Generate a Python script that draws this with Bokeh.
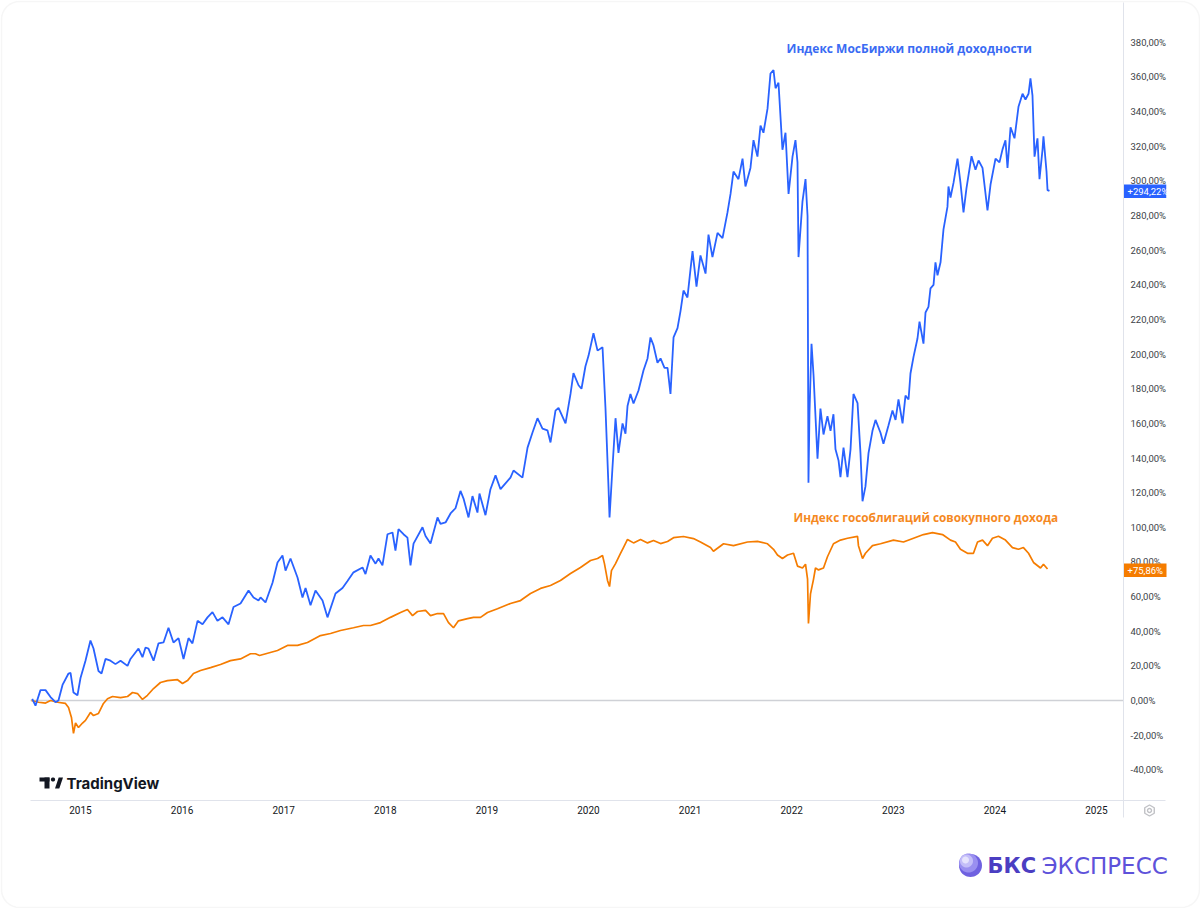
import math
from bokeh.plotting import figure
from bokeh.models import Range1d, FixedTicker, Label, BoxAnnotation, PolyAnnotation
from bokeh.embed import file_html
from bokeh.resources import INLINE

# ---------------- data (decimal years, % return) ----------------
moex_t = [
    2014.525, 2014.557, 2014.606, 2014.656, 2014.705, 2014.754, 2014.783, 2014.823, 2014.882, 2014.902, 2014.931, 2014.970,
    2015.000, 2015.049, 2015.098, 2015.128, 2015.177, 2015.207, 2015.246, 2015.295, 2015.344, 2015.394, 2015.463, 2015.492,
    2015.571, 2015.610, 2015.640, 2015.669, 2015.719, 2015.768, 2015.817, 2015.866, 2015.915, 2015.965,
    2016.014, 2016.063, 2016.102, 2016.152, 2016.201, 2016.250, 2016.299, 2016.348, 2016.398, 2016.457, 2016.506, 2016.575,
    2016.654, 2016.703, 2016.752, 2016.772, 2016.821, 2016.890, 2016.939, 2016.988,
    2017.018, 2017.067, 2017.136, 2017.185, 2017.215, 2017.264, 2017.313, 2017.382, 2017.431, 2017.510, 2017.579, 2017.628,
    2017.687, 2017.776, 2017.805, 2017.854, 2017.904, 2017.933, 2017.972,
    2018.022, 2018.071, 2018.100, 2018.130, 2018.179, 2018.218, 2018.248, 2018.278, 2018.366, 2018.396, 2018.445, 2018.514,
    2018.543, 2018.593, 2018.642, 2018.691, 2018.740, 2018.770, 2018.819, 2018.858, 2018.907, 2018.927, 2018.986,
    2019.035, 2019.085, 2019.134, 2019.232, 2019.262, 2019.350, 2019.400, 2019.449, 2019.498, 2019.547, 2019.596, 2019.626,
    2019.675, 2019.705, 2019.774, 2019.823, 2019.852, 2019.902, 2019.931, 2019.970,
    2020.000, 2020.049, 2020.089, 2020.138, 2020.148, 2020.167, 2020.197, 2020.207, 2020.236, 2020.266, 2020.295, 2020.335,
    2020.364, 2020.384, 2020.413, 2020.443, 2020.492, 2020.541, 2020.581, 2020.610, 2020.640, 2020.679, 2020.709, 2020.748,
    2020.778, 2020.807, 2020.837, 2020.876, 2020.906, 2020.935, 2020.974,
    2021.004, 2021.024, 2021.063, 2021.102, 2021.152, 2021.181, 2021.220, 2021.270, 2021.319, 2021.368, 2021.398, 2021.427,
    2021.476, 2021.516, 2021.545, 2021.594, 2021.624, 2021.663, 2021.693, 2021.722, 2021.762, 2021.791, 2021.821, 2021.841,
    2021.870, 2021.909, 2021.939, 2021.969,
    2022.008, 2022.037, 2022.057, 2022.067, 2022.106, 2022.136, 2022.156, 2022.165, 2022.175, 2022.195, 2022.215, 2022.254,
    2022.283, 2022.313, 2022.352, 2022.382, 2022.411, 2022.431, 2022.461, 2022.480, 2022.510, 2022.549, 2022.579, 2022.608,
    2022.648, 2022.677, 2022.697, 2022.726, 2022.756, 2022.795, 2022.825, 2022.874, 2022.903, 2022.953, 2022.992,
    2023.022, 2023.051, 2023.091, 2023.120, 2023.150, 2023.169, 2023.199, 2023.238, 2023.258, 2023.297, 2023.317, 2023.346,
    2023.366, 2023.396, 2023.415, 2023.435, 2023.465, 2023.494, 2023.533, 2023.543, 2023.563, 2023.593, 2023.632, 2023.661,
    2023.691, 2023.720, 2023.740, 2023.770, 2023.809, 2023.839, 2023.878, 2023.927, 2023.957,
    2024.006, 2024.045, 2024.075, 2024.104, 2024.124, 2024.154, 2024.193, 2024.232, 2024.272, 2024.301, 2024.331, 2024.350,
    2024.370, 2024.390, 2024.419, 2024.439, 2024.469, 2024.478, 2024.508, 2024.518, 2024.537,
]
moex_v = [
    1, -3, 6, 6, 2, -1, 0, 9, 15.6, 16, 4.6, 3,
    13, 23, 34.6, 30, 17, 15.6, 24, 23, 21, 23, 20, 24,
    30, 25, 30.6, 30, 23, 33, 33.5, 42, 33.5, 36,
    24, 36, 33, 46, 44, 48, 51, 46, 48, 44, 54, 56,
    63.5, 59.5, 57.7, 59.5, 56.6, 68, 79.7, 83.7,
    75, 82, 71, 59.5, 65, 55, 63.5, 57.7, 48, 61.8, 65, 69,
    74, 76.8, 73, 83.7, 79, 82, 78,
    96, 97, 86.6, 99, 96, 94, 78, 90.6, 100, 95, 90.6, 105.7,
    102, 102.8, 108, 111, 121, 116.6, 105.7, 118, 108.5, 119.5, 107,
    122, 130, 122, 128.7, 132.8, 128.7, 146, 154.7, 163, 157, 156, 149,
    167.4, 169, 160, 177, 189, 182, 180, 193,
    199, 212, 202, 204, 192, 169, 123, 105.7, 134.5, 163, 143, 160,
    154, 170, 177, 171.5, 179, 190.5, 197.5, 209.6, 205, 195, 197.5, 192,
    192, 177, 209.6, 215, 225, 236.7, 232.7,
    249, 259.4, 239, 257, 246.5, 269, 256, 270, 267, 281.8, 292.5, 305.4,
    301, 312.9, 296.8, 307.5, 323.5, 314, 332, 327.8, 341.7, 362, 364, 353.5,
    356.7, 318, 327.8, 292.5,
    314, 323.5, 310.7, 256, 288, 301, 279.7, 125.7, 166.3, 206, 187.8, 139.6,
    168.5, 153.6, 164.2, 155.7, 165.3, 145, 138.6, 129, 146, 129, 145, 177,
    171.7, 142.8, 115, 123.6, 142.8, 155.7, 162, 154.6, 148.2, 158.9, 167.4,
    162, 173.8, 160, 176, 173.8, 188.8, 198.4, 209, 218.8, 206, 224, 227.3,
    238, 240, 253, 245.5, 253, 272, 285, 296.8, 290.4, 299, 312.9, 299,
    281.8, 295.7, 303.2, 314.3, 306.4, 311.8, 307.5, 282.9, 297.9,
    312.9, 310.7, 318.2, 323.5, 307.5, 331, 324.6, 342.8, 350.3, 347, 350.3, 359.2,
    349.2, 314, 324.6, 301, 318.2, 325.7, 305.4, 294.7, 294.2,
]

bonds_t = [
    2014.518, 2014.587, 2014.656, 2014.705, 2014.774, 2014.852, 2014.882, 2014.911, 2014.931, 2014.951, 2014.980,
    2015.020, 2015.049, 2015.098, 2015.128, 2015.177, 2015.226, 2015.266, 2015.315, 2015.394, 2015.463, 2015.512,
    2015.561, 2015.610, 2015.659, 2015.719, 2015.787, 2015.856, 2015.955,
    2016.004, 2016.053, 2016.112, 2016.181, 2016.280, 2016.378, 2016.476, 2016.575, 2016.673, 2016.722, 2016.762, 2016.939,
    2017.037, 2017.136, 2017.234, 2017.362, 2017.461, 2017.559, 2017.687, 2017.785, 2017.854, 2017.953,
    2018.051, 2018.150, 2018.218, 2018.268, 2018.317, 2018.396, 2018.445, 2018.514, 2018.573, 2018.622, 2018.671,
    2018.720, 2018.809, 2018.868, 2018.937,
    2019.006, 2019.104, 2019.232, 2019.331, 2019.429, 2019.528, 2019.626, 2019.724, 2019.823, 2019.921,
    2020.020, 2020.089, 2020.138, 2020.157, 2020.187, 2020.207, 2020.226, 2020.266, 2020.315, 2020.344, 2020.384,
    2020.443, 2020.512, 2020.581, 2020.640, 2020.709, 2020.778, 2020.837, 2020.935,
    2021.033, 2021.102, 2021.201, 2021.230, 2021.329, 2021.427, 2021.565, 2021.663, 2021.762, 2021.821, 2021.860,
    2021.909, 2021.959,
    2022.018, 2022.057, 2022.106, 2022.136, 2022.156, 2022.165, 2022.185, 2022.215, 2022.234, 2022.264, 2022.313,
    2022.352, 2022.411, 2022.480, 2022.549, 2022.648, 2022.657, 2022.697, 2022.726, 2022.795, 2022.874,
    2023.002, 2023.100, 2023.199, 2023.297, 2023.386, 2023.484, 2023.563, 2023.612, 2023.661, 2023.730, 2023.789,
    2023.829, 2023.878, 2023.927, 2023.976,
    2024.035, 2024.104, 2024.173, 2024.232, 2024.281, 2024.331, 2024.380, 2024.449, 2024.478, 2024.518,
]
bonds_v = [
    0, -1, -1.5, 0, -1, -1.7, -4, -9.8, -19, -13, -15.6,
    -13, -11.5, -6.9, -8.7, -7.5, -1.7, 1, 2.3, 1.7, 2.3, 4.6,
    4, 0.6, 3, 6.9, 10.4, 11.5, 12,
    9.8, 11.5, 15.6, 17.3, 19, 20.8, 23, 24, 27, 27, 26, 28.9,
    31.8, 31.8, 33.5, 37.5, 38.7, 40.4, 42, 43.3, 43.3, 45,
    48, 50.8, 52.5, 49, 51.4, 52, 49, 50.2, 50.2, 45, 42,
    46, 47.3, 48, 48,
    50.8, 53, 56, 57.7, 61.8, 64.7, 66.4, 69.3, 73.3, 76.8,
    80.8, 82, 83.7, 79, 69.3, 65.8, 75, 79, 84.9, 88.3, 93,
    91, 93, 91, 92.4, 90.6, 91.8, 94, 94.7,
    93.5, 91.5, 88.3, 86.2, 90.5, 89.4, 91.5, 91.9, 90.5, 87.3, 84,
    82, 84,
    85, 77.6, 76.5, 78.7, 70.1, 44.5, 61.6, 70.1, 76.5, 75.4, 76.5,
    83, 90.5, 92.6, 93.7, 94.8, 89.4, 82, 85, 89.4, 90.5,
    92.6, 91.5, 93.7, 95.8, 96.9, 95.8, 92.6, 91.5, 87.3, 85, 85,
    91.5, 92.6, 89.4, 93.7,
    94.8, 92.6, 88.3, 87.3, 88.3, 85, 79.7, 76.5, 78.7, 75.9,
]

year_ticks = list(range(2015, 2026))
pct_ticks = list(range(-40, 381, 20))
pct_labels = {v: f"{v},00%" for v in pct_ticks}
moex_name = "Индекс МосБиржи полной доходности"
bonds_name = "Индекс гособлигаций совокупного дохода"
moex_last = "+294,22%"
bonds_last = "+75,86%"

BLUE = "#2962FF"
ORANGE = "#F57C00"
GRID = "#e0e3eb"

# ------------- pixel helpers for decorations (canvas px -> data) -------------
def X(px):
    return 2015 + (px - 80) / 101.6

def Y(py):
    return (700 - py) / 1.732

W, H = 1200, 908
p = figure(width=W, height=H, output_backend="svg", toolbar_location=None,
           x_range=Range1d(X(0), X(W)), y_range=Range1d(Y(H), Y(0)),
           y_axis_location="right",
           min_border_left=0, min_border_right=0, min_border_top=0, min_border_bottom=0)
p.background_fill_color = "white"
p.border_fill_color = "white"
p.outline_line_color = None
p.xgrid.visible = False
p.ygrid.visible = False

# price scale (right) drawn at the chart's right edge
ya = p.yaxis[0]
ya.fixed_location = X(1123)
ya.bounds = (Y(817), Y(2))
ya.ticker = FixedTicker(ticks=pct_ticks)
ya.major_label_overrides = pct_labels
ya.axis_line_color = GRID
ya.major_tick_line_color = None
ya.minor_tick_line_color = None
ya.major_tick_out = 0
ya.major_tick_in = 0
ya.minor_tick_out = 0
ya.major_label_standoff = 7
ya.major_label_text_font = "Roboto"
ya.major_label_text_font_size = "9.5px"
ya.major_label_text_color = "#3c3f47"

# time scale (bottom)
xa = p.xaxis[0]
xa.fixed_location = Y(800)
xa.bounds = (X(30), X(1165))
xa.ticker = FixedTicker(ticks=year_ticks)
xa.major_label_overrides = {y: str(y) for y in year_ticks}
xa.axis_line_color = GRID
xa.major_tick_line_color = None
xa.minor_tick_line_color = None
xa.major_tick_out = 0
xa.major_tick_in = 0
xa.minor_tick_out = 0
xa.major_label_standoff = 5
xa.major_label_text_font = "Roboto"
xa.major_label_text_font_size = "10px"
xa.major_label_text_color = "#131722"

# zero line
p.segment(x0=[X(30)], y0=[0], x1=[X(1123)], y1=[0], line_color="#cfd1d6", line_width=1.3)

p.line(bonds_t, bonds_v, line_color=ORANGE, line_width=1.7)
p.line(moex_t, moex_v, line_color=BLUE, line_width=1.8)

# series titles
p.add_layout(Label(x=X(786), y=Y(48), text=moex_name, text_font="Open Sans", text_font_style="bold",
                   text_font_size="12px", text_color="#3A6BF3", text_baseline="middle"))
p.add_layout(Label(x=X(793), y=Y(516), text=bonds_name, text_font="Open Sans", text_font_style="bold",
                   text_font_size="11.8px", text_color="#F5891F", text_baseline="middle"))

# last-value tags
p.add_layout(BoxAnnotation(left=X(1123.5), right=X(1166), top=Y(184), bottom=Y(197.5),
                           fill_color=BLUE, fill_alpha=1, line_color=None))
p.add_layout(Label(x=X(1127), y=Y(191), text=moex_last, text_font="Roboto", text_font_size="9.5px",
                   text_color="white", text_baseline="middle"))
p.add_layout(BoxAnnotation(left=X(1123.5), right=X(1166), top=Y(563), bottom=Y(576.5),
                           fill_color=ORANGE, fill_alpha=1, line_color=None))
p.add_layout(Label(x=X(1127), y=Y(570), text=bonds_last, text_font="Roboto", text_font_size="9.5px",
                   text_color="white", text_baseline="middle"))
# white mask beyond the price scale (tag text is cut there)
p.add_layout(BoxAnnotation(left=X(1166), right=X(1199), top=Y(180), bottom=Y(200),
                           fill_color="white", fill_alpha=1, line_color=None))

def poly(pts, **kw):
    p.add_layout(PolyAnnotation(xs=[X(a) for a, b in pts], ys=[Y(b) for a, b in pts], **kw))

def circ(cx, cy, r, n=40):
    return [(cx + r * math.cos(2 * math.pi * i / n), cy + r * math.sin(2 * math.pi * i / n)) for i in range(n)]

# TradingView logo
dark = dict(fill_color="#131722", fill_alpha=1, line_color=None)
poly([(39, 777), (49, 777), (49, 781), (39, 781)], **dark)
poly([(44, 777), (49, 777), (49, 788), (44, 788)], **dark)
poly(circ(52.5, 779, 2.1), **dark)
poly([(54.5, 788), (58.8, 788), (62.5, 777), (58.2, 777)], **dark)
p.add_layout(Label(x=X(66), y=Y(783), text="TradingView", text_font="Inter", text_font_style="bold",
                   text_font_size="15px", text_color="#131722", text_baseline="middle"))

# settings icon
hexa = [(1149 + 5.5 * math.cos(math.pi / 6 + i * math.pi / 3), 810 + 5.5 * math.sin(math.pi / 6 + i * math.pi / 3)) for i in range(6)]
poly(hexa, fill_color=None, line_color="#2f3240", line_width=1.4)
poly(circ(1149, 810, 2, 16), fill_color=None, line_color="#2f3240", line_width=1.3)

# BKS Express logo
poly(circ(970, 865, 11.5), fill_color="#6f61e0", fill_alpha=1, line_color=None)
poly(circ(968, 862.5, 9.5), fill_color="#9a8ff0", fill_alpha=1, line_color=None)
poly(circ(966, 860.5, 6.5), fill_color="#c4bef8", fill_alpha=1, line_color=None)
poly(circ(965, 859.5, 3.5), fill_color="#e6e3fd", fill_alpha=1, line_color=None)
p.add_layout(Label(x=X(987), y=Y(865), text="БКС", text_font="DejaVu Sans", text_font_style="bold",
                   text_font_size="21px", text_color="#4B3EC2", text_baseline="middle"))
p.add_layout(Label(x=X(1041), y=Y(865), text="ЭКСПРЕСС", text_font="DejaVu Sans",
                   text_font_size="23px", text_color="#5E52DA", text_baseline="middle"))

# outer rounded frame
def rrect(x0, y0, x1, y1, r, n=8):
    pts = []
    for cx, cy, a0 in [(x1 - r, y0 + r, -90), (x1 - r, y1 - r, 0), (x0 + r, y1 - r, 90), (x0 + r, y0 + r, 180)]:
        for i in range(n + 1):
            a = math.radians(a0 + 90 * i / n)
            pts.append((cx + r * math.cos(a), cy + r * math.sin(a)))
    return pts

poly(rrect(1, 1, 1199, 907, 18), fill_color=None, line_color="#e2e2e2", line_width=1.5)

open("out.html", "w").write(file_html(p, INLINE))
